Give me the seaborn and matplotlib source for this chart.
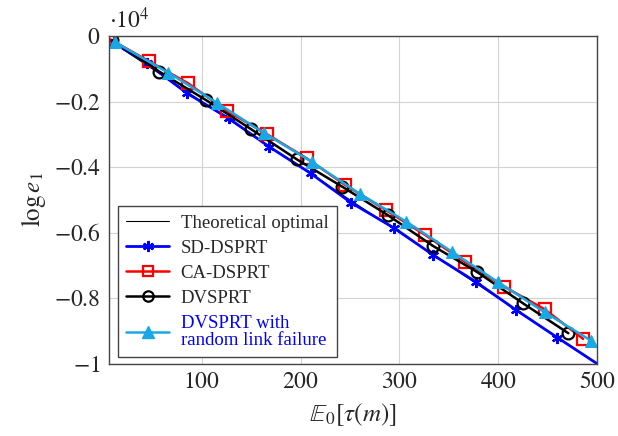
import numpy as np
import pandas as pd
import seaborn as sns
import matplotlib
matplotlib.use("Agg")
import matplotlib.pyplot as plt
from matplotlib.lines import Line2D

# Datos
# -----------------------------------------------------------------------
opt_x = [0, 500]
opt_y = [0, -10000]

sd_x = [3, 44, 85, 127, 168, 210, 251, 295, 334, 378, 418, 460, 500]
sd_y = [-60, -820, -1743, -2507, -3374, -4186, -5084, -5866, -6681, -7515, -8360, -9206, -10000]

ca_x = [5, 46, 86, 125, 166, 206, 245, 286, 326, 366, 406, 447, 486]
ca_y = [-60, -757, -1438, -2275, -2995, -3728, -4543, -5307, -6070, -6886, -7649, -8340, -9246]

dv_x = [9, 57, 104, 150, 196, 242, 288, 334, 379, 425, 471]
dv_y = [-120, -1084, -1948, -2843, -3759, -4595, -5460, -6406, -7209, -8156, -9072]

rl_x = [12, 66, 115, 163, 211, 260, 307, 353, 400, 447, 494]
rl_y = [-186, -1114, -2030, -2960, -3832, -4818, -5664, -6580, -7515, -8431, -9298]

labels = ["Theoretical optimal", "SD-DSPRT", "CA-DSPRT", "DVSPRT",
          "DVSPRT with\nrandom link failure"]

xticks = [100, 200, 300, 400, 500]
yticks = [0, -2000, -4000, -6000, -8000, -10000]
ytick_labels = ["0", "-0.2", "-0.4", "-0.6", "-0.8", "-1"]

BLUE = "#0000ff"
RED = "#ff0000"
CYAN = "#1aa8e4"
STAR = (6, 2, 0)

sns.set_style("whitegrid")
plt.rcParams["font.family"] = ["Liberation Serif", "DejaVu Serif"]
plt.rcParams["mathtext.fontset"] = "stix"

fig = plt.figure(figsize=(6.18, 4.36), dpi=100)
ax = fig.add_axes([0.1764, 0.166, 0.7896, 0.751])

sns.lineplot(x=opt_x, y=opt_y, ax=ax, color="black", linewidth=0.8, sort=False)
sns.lineplot(x=sd_x, y=sd_y, ax=ax, color=BLUE, linewidth=2.0, sort=False,
             marker=STAR, markersize=8, markeredgewidth=1.6, markeredgecolor=BLUE,
             markevery=list(range(1, len(sd_x) - 1)))
sns.lineplot(x=ca_x, y=ca_y, ax=ax, color=RED, linewidth=1.8, sort=False,
             marker="s", markersize=8.5, markerfacecolor="none",
             markeredgecolor=RED, markeredgewidth=1.6)
sns.lineplot(x=dv_x, y=dv_y, ax=ax, color="black", linewidth=1.8, sort=False,
             marker="o", markersize=8.5, markerfacecolor="none",
             markeredgecolor="black", markeredgewidth=1.6)
sns.lineplot(x=rl_x, y=rl_y, ax=ax, color=CYAN, linewidth=1.8, sort=False,
             marker="^", markersize=8, markerfacecolor=CYAN,
             markeredgecolor=CYAN)

ax.set_xlim(6, 500)
ax.set_ylim(-10000, 0)
ax.set_xticks(xticks)
ax.set_xticklabels([f"${t}$" for t in xticks])
ax.set_yticks(yticks)
ax.set_yticklabels([f"${t}$" for t in ytick_labels])
ax.tick_params(axis="both", labelsize=17, direction="in", length=3,
               color="#555555", pad=6)
ax.grid(True, color="#d3d3d3", linewidth=0.8)
for s in ax.spines.values():
    s.set_color("#444444")
    s.set_linewidth(1.0)

ax.set_xlabel(r"$\mathbb{E}_0[\tau(m)]$", fontsize=18, labelpad=6)
ax.set_ylabel(r"$\log e_1$", fontsize=18, labelpad=4)
ax.text(0.0, 1.01, r"$\cdot 10^4$", transform=ax.transAxes, ha="left",
        va="bottom", fontsize=17)

handles = [
    Line2D([], [], color="black", linewidth=0.8),
    Line2D([], [], color=BLUE, linewidth=2.0, marker=STAR, markersize=8,
           markeredgewidth=1.6, markeredgecolor=BLUE),
    Line2D([], [], color=RED, linewidth=1.8, marker="s", markersize=7.5,
           markerfacecolor="none", markeredgecolor=RED, markeredgewidth=1.6),
    Line2D([], [], color="black", linewidth=1.8, marker="o", markersize=7.5,
           markerfacecolor="none", markeredgecolor="black", markeredgewidth=1.6),
    Line2D([], [], color=CYAN, linewidth=1.8, marker="^", markersize=8,
           markerfacecolor=CYAN, markeredgecolor=CYAN),
]
leg = ax.legend(handles, labels, loc="lower left", bbox_to_anchor=(0.018, 0.02),
                borderaxespad=0, fontsize=13.5, frameon=True, fancybox=False,
                framealpha=1, edgecolor="#444444", handlelength=2.3,
                labelspacing=0.42, handletextpad=0.6, borderpad=0.45)
leg.get_frame().set_linewidth(1.0)
leg.get_texts()[-1].set_color(BLUE)
leg.get_texts()[-1].set_linespacing(1.0)

fig.savefig("out.png", dpi=100)
